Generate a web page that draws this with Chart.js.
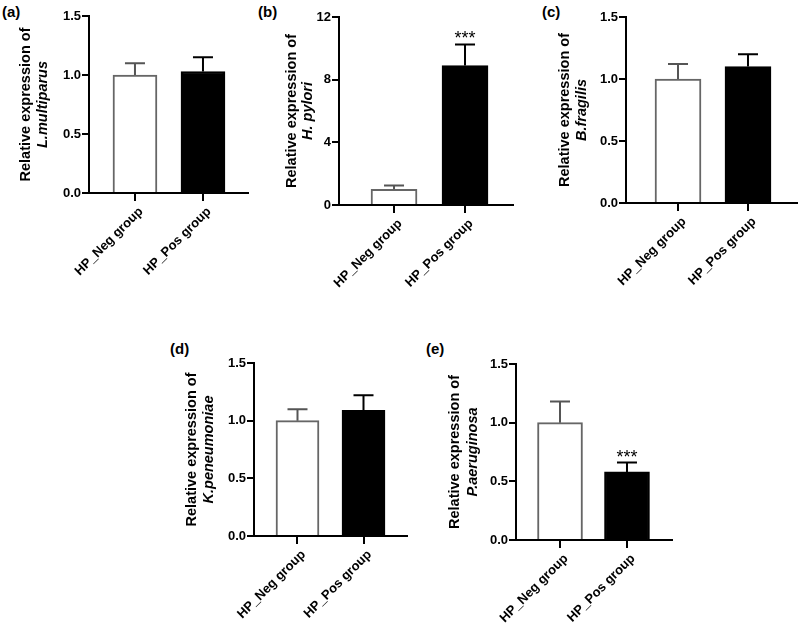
<!DOCTYPE html>
<html>
<head>
<meta charset="utf-8">
<script src="https://cdn.jsdelivr.net/npm/chart.js@4.4.1/dist/chart.umd.min.js"></script>
<style>
  html, body { margin: 0; padding: 0; background: #fff; width: 798px; height: 627px; overflow: hidden; position: relative; }
  canvas { position: absolute; }
  .tag { position: absolute; font: bold 15px 'Liberation Sans', Arial, sans-serif; color: #000; line-height: 15px; }
</style>
</head>
<body>
<script>
// data
const groups = ['HP_Neg group', 'HP_Pos group'];
const panelTags = ['(a)', '(b)', '(c)', '(d)', '(e)'];
const species = ['L.multiparus', 'H. pylori', 'B.fragilis', 'K.peneumoniae', 'P.aeruginosa'];
const negMean = [1.0, 1.0, 1.0, 1.0, 1.0];
const negSD = [0.10, 0.25, 0.12, 0.10, 0.18];
const posMean = [1.03, 8.9, 1.10, 1.09, 0.58];
const posSD = [0.12, 1.35, 0.10, 0.13, 0.08];
const posStars = ['', '***', '', '', '***'];
const yMax = [1.5, 12, 1.5, 1.5, 1.5];
const yStep = [0.5, 4, 0.5, 0.5, 0.5];
const yDecimals = [1, 0, 1, 1, 1];

// where each panel sits on the page (plot box), x range, bar width, title offsets, tag spot
const panels = [
  { left: 89, top: 16, right: 248, bottom: 193, xMin: -0.676, xMax: 1.662, bar: 44, t1: 63, t2: 46, tagX: 2, tagY: 4 },
  { left: 339, top: 17, right: 513, bottom: 205, xMin: -0.775, xMax: 1.676, bar: 46, t1: 47, t2: 31, tagX: 258, tagY: 4 },
  { left: 626, top: 17, right: 800, bottom: 203, xMin: -0.743, xMax: 1.743, bar: 46, t1: 61, t2: 44, tagX: 542, tagY: 4 },
  { left: 254, top: 363, right: 407, bottom: 536, xMin: -0.659, xMax: 1.659, bar: 43, t1: 62, t2: 45, tagX: 170, tagY: 341 },
  { left: 516, top: 364, right: 672, bottom: 540, xMin: -0.657, xMax: 1.672, bar: 45, t1: 61, t2: 43, tagX: 426, tagY: 341 }
];

const yW = 80, padTop = 14, padRight = 4, xH = 100;
const FONT = "'Liberation Sans', Arial, sans-serif";
Chart.defaults.font.family = FONT;
Chart.defaults.color = '#000';

const extras = {
  id: 'extras',
  afterDatasetsDraw(chart, args, opts) {
    const i = opts.idx;
    const p = panels[i];
    const ctx = chart.ctx;
    const area = chart.chartArea;
    const xs = chart.scales.x;
    const ys = chart.scales.y;
    const means = [negMean[i], posMean[i]];
    const sds = [negSD[i], posSD[i]];
    const cols = ['#555', '#000'];

    ctx.save();
    ctx.lineWidth = 2;
    means.forEach((m, k) => {
      const x = xs.getPixelForValue(k);
      const y0 = ys.getPixelForValue(m);
      const y1 = ys.getPixelForValue(m + sds[k]);
      ctx.strokeStyle = cols[k];
      ctx.beginPath();
      ctx.moveTo(x, y0);
      ctx.lineTo(x, y1);
      ctx.moveTo(x - 10, y1);
      ctx.lineTo(x + 10, y1);
      ctx.stroke();
      if (k === 1 && posStars[i]) {
        ctx.fillStyle = '#000';
        ctx.font = '18px ' + FONT;
        ctx.textAlign = 'center';
        ctx.textBaseline = 'alphabetic';
        ctx.fillText(posStars[i], x, y1);
      }
    });

    // two-line y title
    const cy = (area.top + area.bottom) / 2;
    ctx.fillStyle = '#000';
    ctx.textAlign = 'center';
    ctx.textBaseline = 'middle';
    ctx.translate(area.left - p.t1, cy);
    ctx.rotate(-Math.PI / 2);
    ctx.font = 'bold 14.5px ' + FONT;
    ctx.fillText('Relative expression of', 0, 0);
    ctx.font = 'italic bold 14.5px ' + FONT;
    ctx.fillText(species[i], 0, p.t1 - p.t2);
    ctx.restore();
  }
};

panels.forEach((p, i) => {
  const tag = document.createElement('div');
  tag.className = 'tag';
  tag.textContent = panelTags[i];
  tag.style.left = p.tagX + 'px';
  tag.style.top = p.tagY + 'px';
  document.body.appendChild(tag);

  const c = document.createElement('canvas');
  const w = p.right - p.left + yW + padRight;
  const h = p.bottom - p.top + padTop + xH;
  c.width = w;
  c.height = h;
  c.style.left = (p.left - yW) + 'px';
  c.style.top = (p.top - padTop) + 'px';
  c.style.width = w + 'px';
  c.style.height = h + 'px';
  document.body.appendChild(c);

  new Chart(c, {
    type: 'bar',
    data: {
      datasets: [{
        data: [{ x: 0, y: negMean[i] }, { x: 1, y: posMean[i] }],
        backgroundColor: ['#fff', '#000'],
        borderColor: ['#666', '#000'],
        borderWidth: 2,
        barThickness: p.bar
      }]
    },
    options: {
      responsive: false,
      animation: false,
      events: [],
      layout: { padding: { top: padTop, right: padRight, left: 0, bottom: 0 } },
      plugins: {
        legend: { display: false },
        tooltip: { enabled: false },
        extras: { idx: i }
      },
      scales: {
        x: {
          type: 'linear',
          offset: false,
          bounds: 'data',
          min: p.xMin,
          max: p.xMax,
          afterBuildTicks: s => { s.ticks = [{ value: 0 }, { value: 1 }]; },
          afterFit: s => { s.height = xH; },
          grid: { offset: false, drawOnChartArea: false, tickLength: 8, color: '#000', lineWidth: 2 },
          border: { color: '#000', width: 2 },
          ticks: {
            autoSkip: false,
            minRotation: 45,
            maxRotation: 45,
            padding: 3,
            labelOffset: 6,
            color: '#000',
            font: { size: 13, weight: 'bold' },
            callback: (v, idx) => groups[idx]
          }
        },
        y: {
          min: 0,
          max: yMax[i],
          afterFit: s => { s.width = yW; },
          grid: { drawOnChartArea: false, tickLength: 7, color: '#000', lineWidth: 2 },
          border: { color: '#000', width: 2 },
          ticks: {
            stepSize: yStep[i],
            padding: 1,
            color: '#000',
            font: { size: 13, weight: 'bold' },
            callback: v => v.toFixed(yDecimals[i])
          }
        }
      }
    },
    plugins: [extras]
  });
});
</script>
</body>
</html>
